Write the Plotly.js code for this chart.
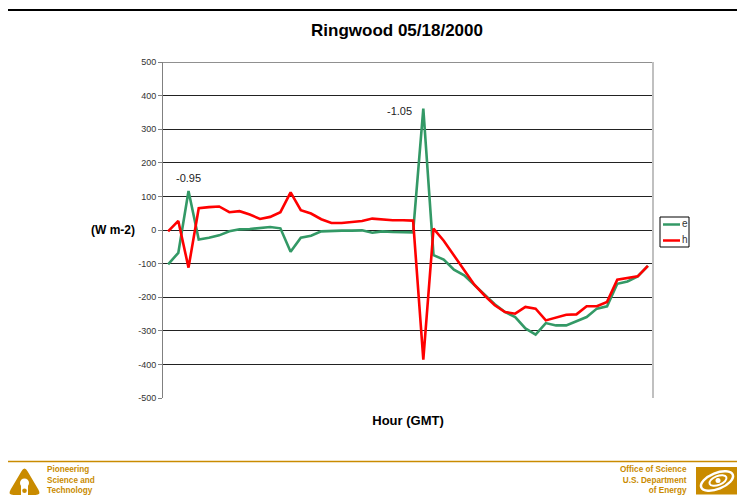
<!DOCTYPE html>
<html>
<head>
<meta charset="utf-8">
<script src="https://cdn.plot.ly/plotly-3.0.1.min.js"></script>
<style>html,body{margin:0;padding:0;background:#fff;}#chart{width:737px;height:497px;}</style>
</head>
<body>
<div id="chart"></div>
<script>
// Half-hour categories (Hour GMT)
var hours = ["00:00","00:30","01:00","01:30","02:00","02:30","03:00","03:30","04:00","04:30",
  "05:00","05:30","06:00","06:30","07:00","07:30","08:00","08:30","09:00","09:30",
  "10:00","10:30","11:00","11:30","12:00","12:30","13:00","13:30","14:00","14:30",
  "15:00","15:30","16:00","16:30","17:00","17:30","18:00","18:30","19:00","19:30",
  "20:00","20:30","21:00","21:30","22:00","22:30","23:00","23:30"];

// Series e (green)
var eValues = [-102,-68,116,-28,-23,-16,-4,2,3,6,
  9,5,-65,-23,-17,-4,-2,-2,-2,-1,
  -8,-4,-6,-6,-7,361,-75,-88,-118,-135,
  -163,-194,-221,-244,-259,-293,-311,-277,-284,-284,
  -272,-259,-234,-227,-160,-153,-138,-107];

// Series h (red)
var hValues = [-4,27,-112,65,68,70,53,56,46,33,
  39,53,112,59,49,32,21,21,24,27,
  34,31,29,29,28,-386,4,-32,-75,-120,
  -163,-195,-224,-244,-249,-229,-234,-269,-261,-252,
  -251,-227,-227,-214,-148,-142,-138,-107];

var seriesNames = ["e","h"];
var yTicks = [-500,-400,-300,-200,-100,0,100,200,300,400,500];
var peakLabels = ["-0.95","-1.05"];

var FONT = "Liberation Sans, Arial, Helvetica, sans-serif";
var GREEN = "#339966", RED = "#FF0000", GOLD = "#C98B00";

// pixel -> paper helpers (plot area 163..653 x 62..398)
var L = 163, R = 84, T = 62, B = 99, W = 737 - L - R, H = 497 - T - B;
function px(x){ return (x - L) / W; }
function py(y){ return (497 - B - y) / H; }

var traces = [
  {x: hours, y: eValues, name: seriesNames[0], type: "scatter", mode: "lines",
   line: {color: GREEN, width: 2.6}, showlegend: false},
  {x: hours, y: hValues, name: seriesNames[1], type: "scatter", mode: "lines",
   line: {color: RED, width: 2.6}, showlegend: false}
];

function ellipsePath(cx, cy, rx, ry, rotDeg){
  var k = 0.5523, a = rotDeg * Math.PI / 180, c = Math.cos(a), s = Math.sin(a);
  function P(u, v){ return [px(cx + u*c - v*s), py(cy + u*s + v*c)]; }
  var pts = [
    P(rx,0), P(rx,k*ry), P(k*rx,ry), P(0,ry), P(-k*rx,ry), P(-rx,k*ry), P(-rx,0),
    P(-rx,-k*ry), P(-k*rx,-ry), P(0,-ry), P(k*rx,-ry), P(rx,-k*ry), P(rx,0)];
  var d = "M" + pts[0].join(",");
  for (var i = 1; i < pts.length; i += 3){
    d += " C" + pts[i].join(",") + " " + pts[i+1].join(",") + " " + pts[i+2].join(",");
  }
  return d + " Z";
}
// rounded triangle via quadratic corners
function roundTri(p, r){
  function lerp(a, b, t){ return [a[0] + (b[0]-a[0])*t, a[1] + (b[1]-a[1])*t]; }
  function dist(a, b){ return Math.hypot(b[0]-a[0], b[1]-a[1]); }
  var d = "";
  for (var i = 0; i < 3; i++){
    var prev = p[(i+2)%3], cur = p[i], next = p[(i+1)%3];
    var a = lerp(cur, prev, r / dist(cur, prev)), b = lerp(cur, next, r / dist(cur, next));
    d += (i === 0 ? "M" : " L") + px(a[0]) + "," + py(a[1]) +
         " Q" + px(cur[0]) + "," + py(cur[1]) + " " + px(b[0]) + "," + py(b[1]);
  }
  return d + " Z";
}

var shapes = [
  // top rule
  {type:"line", xref:"paper", yref:"paper", x0:px(8), x1:px(737), y0:py(10), y1:py(10),
   line:{color:"#000", width:2}},
  // top gridline at 500
  {type:"line", xref:"paper", yref:"y", x0:0, x1:1, y0:500, y1:500,
   line:{color:"#222", width:1}},
  // right plot border
  {type:"line", xref:"paper", yref:"paper", x0:1, x1:1, y0:0, y1:1,
   line:{color:"#C0C0C0", width:2}},
  // legend box
  {type:"rect", xref:"paper", yref:"paper", x0:px(660), x1:px(689), y0:py(217), y1:py(247),
   line:{color:"#000", width:1}, fillcolor:"#fff"},
  {type:"line", xref:"paper", yref:"paper", x0:px(663), x1:px(680), y0:py(224.5), y1:py(224.5),
   line:{color:GREEN, width:2.5}},
  {type:"line", xref:"paper", yref:"paper", x0:px(663), x1:px(680), y0:py(240.5), y1:py(240.5),
   line:{color:RED, width:2.5}},
  // footer rule
  {type:"line", xref:"paper", yref:"paper", x0:px(8), x1:px(737), y0:py(461.5), y1:py(461.5),
   line:{color:GOLD, width:1.5}},
  // Argonne-like logo
  {type:"path", xref:"paper", yref:"paper", fillcolor:GOLD, line:{width:0},
   path: roundTri([[24.5,466],[7.5,495],[41.5,495]], 6)},
  {type:"circle", xref:"paper", yref:"paper", x0:px(20), x1:px(29), y0:py(478.5), y1:py(487.5),
   fillcolor:"#fff", line:{width:0}},
  {type:"rect", xref:"paper", yref:"paper", x0:px(21), x1:px(28), y0:py(485), y1:py(495.5),
   fillcolor:"#fff", line:{width:0}},
  {type:"circle", xref:"paper", yref:"paper", x0:px(22.2), x1:px(26.8), y0:py(488.5), y1:py(493.1),
   fillcolor:GOLD, line:{width:0}},
  // DOE-like logo
  {type:"rect", xref:"paper", yref:"paper", x0:px(696), x1:px(737), y0:py(467), y1:py(494.5),
   fillcolor:GOLD, line:{width:0}},
  {type:"path", xref:"paper", yref:"paper", fillcolor:"rgba(0,0,0,0)", line:{color:"#fff", width:2.5},
   path: ellipsePath(717, 481, 17, 8, -22)},
  {type:"path", xref:"paper", yref:"paper", fillcolor:"rgba(0,0,0,0)", line:{color:"#fff", width:2},
   path: ellipsePath(718, 480.5, 9, 4.5, -22)},
  {type:"circle", xref:"paper", yref:"paper", x0:px(715.5), x1:px(720.5), y0:py(478), y1:py(483),
   fillcolor:"#fff", line:{width:0}}
];

function txt(text, x, y, size, color, bold, anchor, align){
  return {text: text, xref:"paper", yref:"paper",
    x: px(x), y: py(y), xanchor: anchor || "center", yanchor: "middle", showarrow: false,
    align: align || "center", borderpad: 0,
    font: {family: FONT, size: size, color: color, weight: bold ? "bold" : "normal"}};
}

var annotations = [
  {text: peakLabels[0], xref:"x", yref:"y", x: 2, y: 155, showarrow:false,
   xanchor:"center", yanchor:"middle", font:{family:FONT, size:11, color:"#222"}},
  {text: peakLabels[1], xref:"x", yref:"y", x: 22.7, y: 353, showarrow:false,
   xanchor:"center", yanchor:"middle", font:{family:FONT, size:11, color:"#222"}},
  txt("(W m-2)", 112.5, 230, 12, "#000", true),
  txt(seriesNames[0], 684.5, 223.5, 10, "#333", false),
  txt(seriesNames[1], 684.5, 239.5, 10, "#333", false),
  txt("Pioneering<br>Science and<br>Technology", 46, 480.5, 8.2, GOLD, true, "left", "left"),
  txt("Office of Science<br>U.S. Department<br>of Energy", 688, 480.3, 8.2, GOLD, true, "right", "right")
];

var layout = {
  width: 737, height: 497,
  margin: {l: L, r: R, t: T, b: B, pad: 0},
  paper_bgcolor: "#fff", plot_bgcolor: "#fff",
  showlegend: false,
  title: {text: "Ringwood 05/18/2000", xref: "container", yref: "container",
    x: 397/737, y: 1 - 30/497, xanchor: "center", yanchor: "middle",
    font: {family: FONT, size: 17, color: "#000", weight: "bold"}},
  xaxis: {type: "category", range: [-0.5, 47.5], showgrid: false, zeroline: false,
    showline: false, showticklabels: false, ticks: "",
    title: {text: "Hour (GMT)", font: {family: FONT, size: 13, color: "#000", weight: "bold"}, standoff: 17}},
  yaxis: {range: [-500, 500], tickvals: yTicks, ticktext: yTicks.map(String),
    showgrid: true, gridcolor: "#222", gridwidth: 1, zeroline: false,
    showline: true, linecolor: "#808080", linewidth: 1,
    ticks: "outside", ticklen: 4, tickcolor: "#808080",
    tickfont: {family: FONT, size: 9, color: "#333"}},
  shapes: shapes,
  annotations: annotations
};

Plotly.newPlot("chart", traces, layout, {displayModeBar: false, staticPlot: true});
</script>
</body>
</html>
